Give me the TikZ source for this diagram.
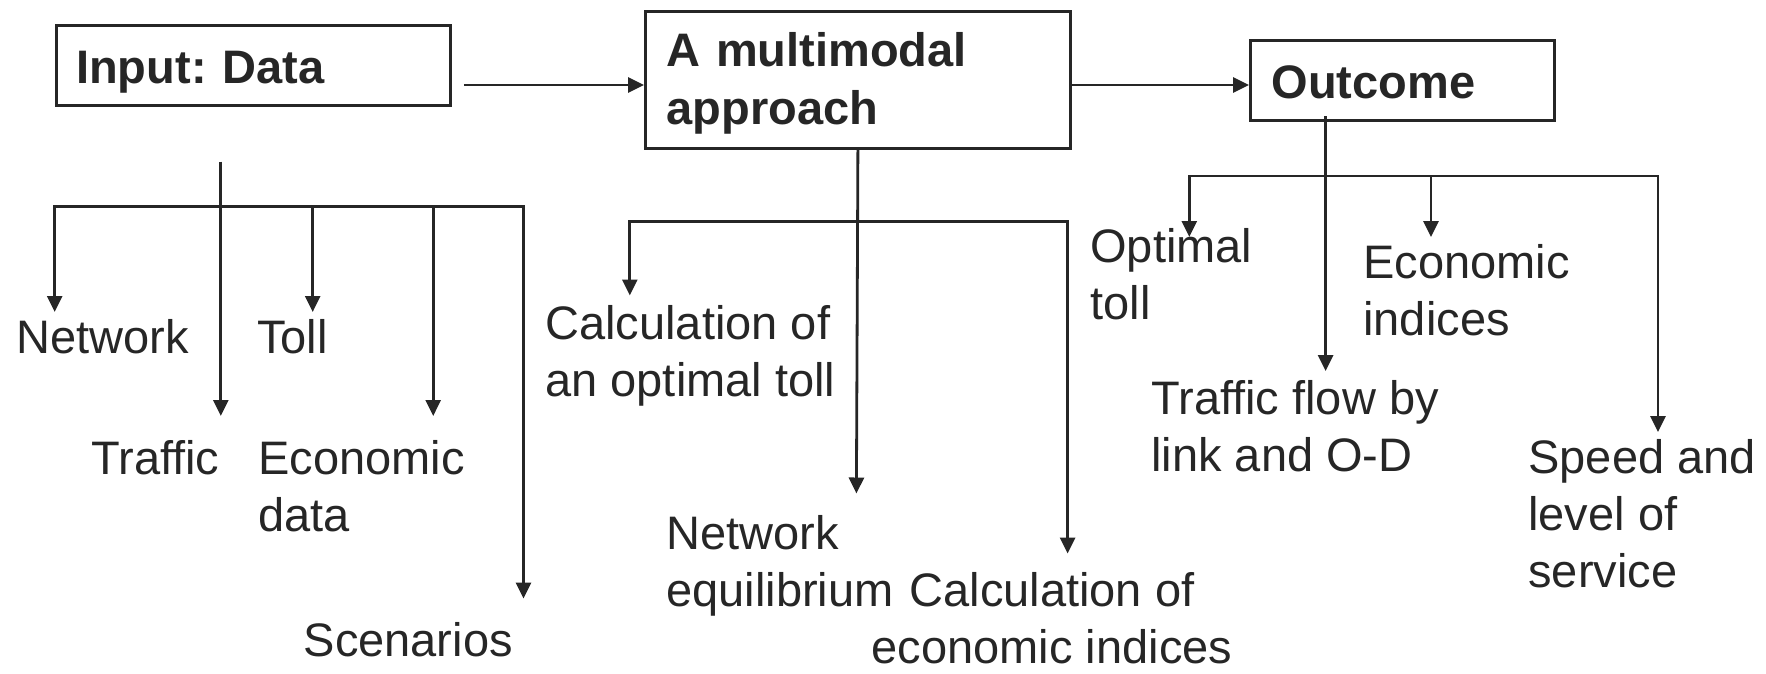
\documentclass[tikz,border=0pt]{standalone}
\usepackage{fontspec}
\setmainfont{Liberation Sans}
\usetikzlibrary{arrows.meta}
\definecolor{ink}{HTML}{262626}
\frenchspacing
\begin{document}
\begin{tikzpicture}[x=1pt,y=-1pt,color=ink,line width=2.8pt,
  tip/.tip={Triangle[length=16pt,width=15pt]},
  arr/.style={-tip},
  arr2/.style={tip-tip},
  box/.style={draw=ink,line width=3pt,rectangle,inner ysep=0pt,align=left,
    font=\fontsize{47}{58}\selectfont\bfseries,text=ink,anchor=north west},
  lbl/.style={inner sep=0pt,align=left,anchor=north west,
    font=\fontsize{47}{57}\selectfont,text=ink}]
\path[use as bounding box] (0,0) rectangle (1766,673);

% boxes
\node[box,text width=354pt,inner xsep=20pt,minimum height=79.7pt,text height=35pt,text depth=0pt] (in) at (54.7,24.3) {Input: Data};
\node[box,text width=382.8pt,inner xsep=21pt,minimum height=136.7pt,text height=41pt] (mm) at (644,10) {A multimodal\\approach};
\node[box,text width=261.7pt,inner xsep=21pt,minimum height=79.7pt,text height=35pt,text depth=0pt] (out) at (1249,39.3) {Outcome};

% labels
\node[lbl] (net) at (15.3,317.7) {Network};
\node[lbl] (toll) at (255.6,317.7) {Toll};
\node[lbl] (traf) at (90,439.3) {Traffic};
\node[lbl] (econ) at (257,439.3) {Economic\\data};
\node[lbl] (scen) at (302.3,621) {Scenarios};
\node[lbl] (calcopt) at (544,304.3) {Calculation of\\an optimal toll};
\node[lbl] (neteq) at (665,514.3) {Network\\equilibrium};
\node[lbl,align=center,anchor=north] (calcecon) at (1052,571) {Calculation of\\economic indices};
\node[lbl] (opttoll) at (1089,227.3) {Optimal\\toll};
\node[lbl] (econind) at (1362,242.7) {Economic\\indices};
\node[lbl] (flow) at (1150,379.3) {Traffic flow by\\link and O-D};
\node[lbl] (speed) at (1527,437.7) {Speed and\\level of\\service};

% junction and tip coordinates
\coordinate (a1) at (463.8,85);
\coordinate (iT) at (220.8,161.7);
\coordinate (iL) at (54.7,206.7);
\coordinate (iR) at (523.5,206.7);
\coordinate (tNet) at (54.7,312);
\coordinate (tToll) at (312.7,312);
\coordinate (tTraf) at (220.8,416);
\coordinate (tEco) at (433.2,416);
\coordinate (tScen) at (523.5,598.5);
\coordinate (mL) at (629.8,221.7);
\coordinate (mR) at (1067.6,221.7);
\coordinate (tCo) at (629.8,295.5);
\coordinate (tNeq) at (856.4,493.5);
\coordinate (tCe) at (1067.6,553.5);
\coordinate (oJ) at (1325.6,116);
\coordinate (oL) at (1189.3,176);
\coordinate (oR) at (1658,176);
\coordinate (tOpt) at (1189.3,237);
\coordinate (tEi) at (1431,237);
\coordinate (tFlow) at (1325.6,371);
\coordinate (tSpd) at (1658,432);

% main arrows
\draw[arr] (a1) -- (a1 -| mm.west);
\draw[arr] (mm.east |- a1) -- (a1 -| out.west);

% input tree
\draw[arr2] (tNet) -- (iL) -- (iR) -- (tScen);
\draw[arr] (iT) -- (tTraf);
\draw[arr] (tToll |- iL) -- (tToll);
\draw[arr] (tEco |- iL) -- (tEco);

% multimodal tree
\draw[arr] (mm.south) -- (tNeq);
\draw[arr2] (tCo) -- (mL) -- (mR) -- (tCe);

% outcome tree
\draw[arr] (oJ) -- (tFlow);
\draw[arr2] (tOpt) -- (oL) -- (oR) -- (tSpd);
\draw[arr] (tEi |- oL) -- (tEi);
\end{tikzpicture}
\end{document}
